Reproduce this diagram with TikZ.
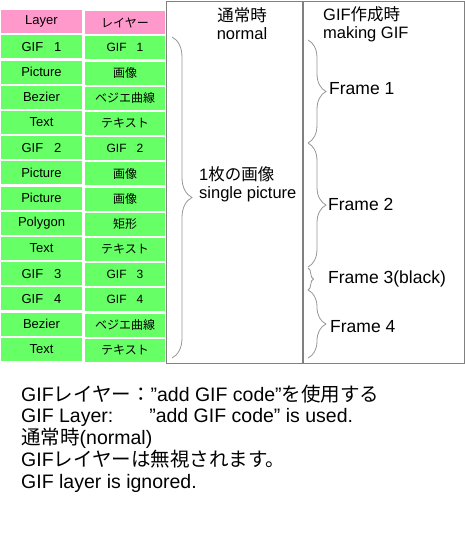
\documentclass[tikz,border=0pt]{standalone}
\usepackage{fontspec}
\setmainfont{Liberation Sans}
\newfontfamily\jp{Noto Sans CJK JP}
\usetikzlibrary{decorations.pathreplacing}

\definecolor{cellpink}{RGB}{255,153,204}
\definecolor{cellgreen}{RGB}{102,255,102}
\definecolor{boxgray}{RGB}{128,128,128}
\definecolor{bracegray}{RGB}{150,150,150}

\tikzset{
    cellE/.style={fill=cellgreen, minimum width=81pt, minimum height=23pt, inner sep=0pt, font=\fontsize{13}{13}\selectfont},
    cellJ/.style={fill=cellgreen, minimum width=80pt, minimum height=23pt, inner sep=0pt, font=\fontsize{12}{12}\selectfont},
    headcell/.style={fill=cellpink},
    colbox/.style={draw=boxgray, line width=1pt},
    brc/.style={draw=bracegray, line width=0.8pt, decorate, decoration={brace, amplitude=#1}},
    lbl/.style={anchor=west, inner sep=0pt, align=left, font=\fontsize{16.5}{18}\selectfont},
    framelbl/.style={anchor=west, inner sep=0pt, font=\fontsize{17.5}{18}\selectfont},
}

\begin{document}
\begin{tikzpicture}[x=1pt, y=-1pt]
            \useasboundingbox (0,0) rectangle (465,539);

            % layer table
            \node[cellE, headcell] (E0)  at (41.5, 21.6)  {Layer};
            \node[cellE]           (E1)  at (41.5, 46.8)  {GIF~~~1};
            \node[cellE]           (E2)  at (41.5, 72.0)  {Picture};
            \node[cellE]           (E3)  at (41.5, 97.2)  {Bezier};
            \node[cellE]           (E4)  at (41.5, 122.4) {Text};
            \node[cellE]           (E5)  at (41.5, 147.6) {GIF~~~2};
            \node[cellE]           (E6)  at (41.5, 172.8) {Picture};
            \node[cellE]           (E7)  at (41.5, 198.0) {Picture};
            \node[cellE]           (E8)  at (41.5, 223.2) {Polygon};
            \node[cellE]           (E9)  at (41.5, 248.4) {Text};
            \node[cellE]           (E10) at (41.5, 273.6) {GIF~~~3};
            \node[cellE]           (E11) at (41.5, 298.8) {GIF~~~4};
            \node[cellE]           (E12) at (41.5, 324.0) {Bezier};
            \node[cellE]           (E13) at (41.5, 349.2) {Text};

            \node[cellJ, headcell] (J0)  at (125, 22.6)  {\jp レイヤー};
            \node[cellJ]           (J1)  at (125, 47.8)  {GIF~~~1};
            \node[cellJ]           (J2)  at (125, 73.0)  {\jp 画像};
            \node[cellJ]           (J3)  at (125, 98.2)  {\jp ベジエ曲線};
            \node[cellJ]           (J4)  at (125, 123.4) {\jp テキスト};
            \node[cellJ]           (J5)  at (125, 148.6) {GIF~~~2};
            \node[cellJ]           (J6)  at (125, 173.8) {\jp 画像};
            \node[cellJ]           (J7)  at (125, 199.0) {\jp 画像};
            \node[cellJ]           (J8)  at (125, 224.2) {\jp 矩形};
            \node[cellJ]           (J9)  at (125, 249.4) {\jp テキスト};
            \node[cellJ]           (J10) at (125, 274.6) {GIF~~~3};
            \node[cellJ]           (J11) at (125, 299.8) {GIF~~~4};
            \node[cellJ]           (J12) at (125, 325.0) {\jp ベジエ曲線};
            \node[cellJ]           (J13) at (125, 350.2) {\jp テキスト};

            % the two columns
            \draw[colbox] (166,1) rectangle (302,363);
            \draw[colbox] (303,1) rectangle (464,363);

            \node[lbl, align=center, anchor=center] (hNormal) at (242,24) {{\jp 通常時}\\normal};
            \node[lbl] (hGif) at (323,24) {GIF{\jp 作成時}\\making GIF};

            % normal: one picture
            \coordinate (nTop) at (172,37);
            \coordinate (nBot) at (172,358);
            \draw[brc=20pt] (nTop) -- (nBot);
            \node[lbl] (single) at (199,184) {1{\jp 枚の画像}\\single picture};

            % making GIF: frames
            \coordinate (fA) at (308,40);
            \coordinate (fB) at (308,143);
            \coordinate (fC) at (308,267);
            \coordinate (fD) at (308,268);
            \coordinate (fE) at (308,290);
            \coordinate (fF) at (308,358);
            \draw[brc=18pt] (fA) -- (fB);
            \draw[brc=18pt] (fB) -- (fC);
            \draw[brc=5.5pt] (fD) -- (fE);
            \draw[brc=18pt] (fE) -- (fF);

            \node[framelbl] (F1) at (329,89)  {Frame 1};
            \node[framelbl] (F2) at (328,204) {Frame 2};
            \node[framelbl] (F3) at (328,279) {Frame 3(black)};
            \node[framelbl] (F4) at (330,327) {Frame 4};

            % notes
            \node[anchor=west, inner sep=0pt, align=left, font=\fontsize{19.5}{21.7}\selectfont] (notes) at (21,438.5)
                {GIF{\jp レイヤー：}”add GIF code”{\jp を使用する}\\
                 GIF Layer:\hspace{36pt}”add GIF code” is used.\\
                 {\jp 通常時}(normal)\\
                 GIF{\jp レイヤーは無視されます。}\\
                 GIF layer is ignored.};
        \end{tikzpicture}
\end{document}
